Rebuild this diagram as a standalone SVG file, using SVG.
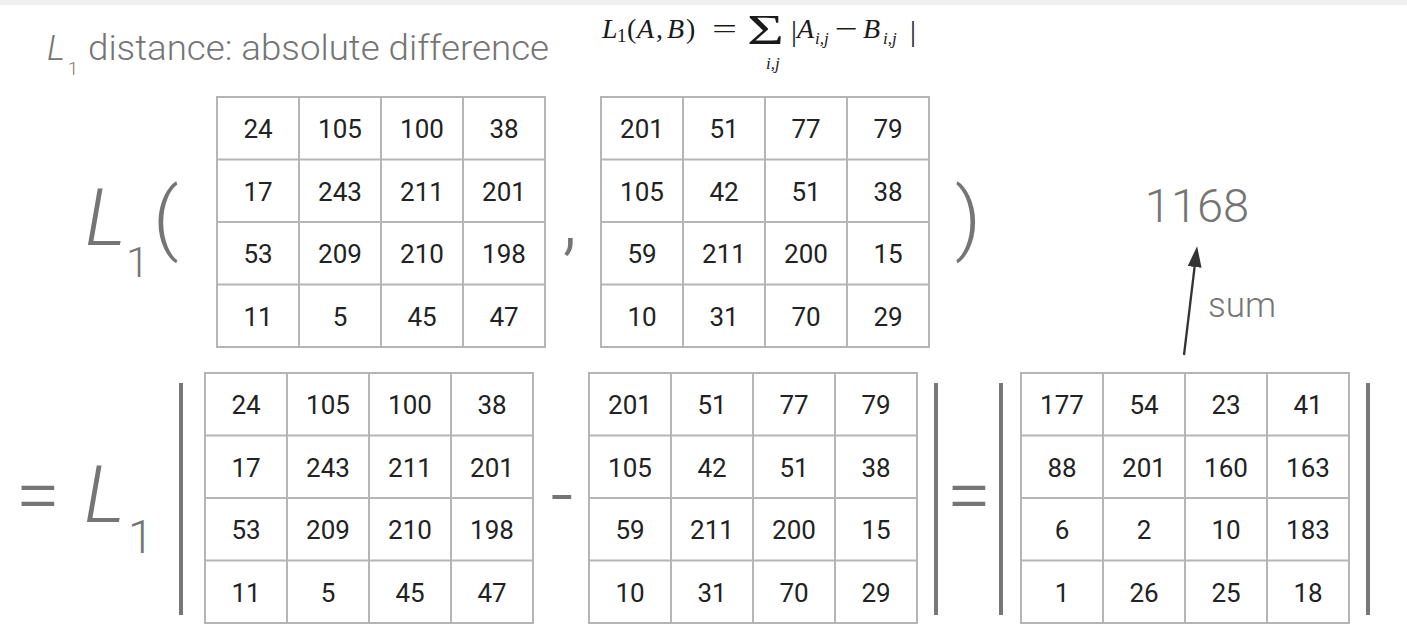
<svg xmlns="http://www.w3.org/2000/svg" xmlns:xlink="http://www.w3.org/1999/xlink" width="1407" height="644" viewBox="0 0 1407 644">
<style>
.cell{font-family:Roboto,'Liberation Sans',sans-serif;font-size:26px;fill:#222;text-anchor:middle}
.sym{font-family:Roboto,'Liberation Sans',sans-serif;font-weight:300;fill:#757575}
.it{font-style:italic}
.tex{font-family:'Liberation Serif','DejaVu Serif',serif;fill:#1a1a1a}
.gl{fill:none;stroke:#b5b5b5;stroke-width:2}
.bar{stroke:#777;stroke-width:4}
.conn{stroke:#333;stroke-width:2.3;fill:none}
</style>
<defs>
<g id="grid">
<rect class="gl" x="0" y="0" width="328" height="250"/>
<path class="gl" d="M82,0V250M164,0V250M246,0V250M0,62.5H328M0,125H328M0,187.5H328"/>
</g>
<marker id="ah" markerUnits="userSpaceOnUse" markerWidth="22" markerHeight="16" refX="0" refY="7" orient="auto" viewBox="0 0 22 16">
<path d="M0,0 L21,7 L0,14 z" fill="#333"/>
</marker>
</defs>
<rect width="1407" height="644" fill="#fff"/>
<rect width="1407" height="5" fill="#efefef"/>

<g id="title">
<text class="sym it" x="47" y="60" font-size="35">L</text>
<text class="sym" x="68" y="75" font-size="18">1</text>
<text class="sym" x="88" y="60" font-size="35" font-weight="400" fill="#6c6c6c" textLength="461" lengthAdjust="spacingAndGlyphs">distance: absolute difference</text>
</g>

<g id="formula" class="tex">
<text x="602" y="38" font-size="28" class="it">L</text>
<text x="617" y="42" font-size="19">1</text>
<text x="627" y="38" font-size="28">(</text>
<text x="637" y="38" font-size="28" class="it">A</text>
<text x="656" y="38" font-size="28">,</text>
<text x="667" y="38" font-size="28" class="it">B</text>
<text x="686" y="38" font-size="28">)</text>
<text x="712" y="38" font-size="28" textLength="25" lengthAdjust="spacingAndGlyphs">=</text>
<text x="747" y="44" font-size="42" textLength="37" lengthAdjust="spacingAndGlyphs">Σ</text>
<text x="766" y="69" font-size="17" class="it">i,j</text>
<text x="791" y="41" font-size="30">|</text>
<text x="797" y="38" font-size="28" class="it">A</text>
<text x="815" y="44" font-size="17" class="it">i,j</text>
<text x="835" y="38" font-size="28" textLength="23" lengthAdjust="spacingAndGlyphs">−</text>
<text x="863" y="38" font-size="28" class="it">B</text>
<text x="883" y="44" font-size="17" class="it">i,j</text>
<text x="910" y="41" font-size="30">|</text>
</g>

<g id="top-expr">
<text class="sym it" x="85" y="245" font-size="80">L</text>
<text class="sym" x="126" y="277" font-size="42">1</text>
<text class="sym" x="153" y="245" font-size="80">(</text>
<text class="sym" x="562" y="245" font-size="80">,</text>
<text class="sym" x="955" y="245" font-size="80">)</text>
</g>

<g id="matA" transform="translate(217,97)">
<use xlink:href="#grid"/>
<text class="cell" x="41" y="41">24</text><text class="cell" x="123" y="41">105</text><text class="cell" x="205" y="41">100</text><text class="cell" x="287" y="41">38</text>
<text class="cell" x="41" y="103.5">17</text><text class="cell" x="123" y="103.5">243</text><text class="cell" x="205" y="103.5">211</text><text class="cell" x="287" y="103.5">201</text>
<text class="cell" x="41" y="166">53</text><text class="cell" x="123" y="166">209</text><text class="cell" x="205" y="166">210</text><text class="cell" x="287" y="166">198</text>
<text class="cell" x="41" y="228.5">11</text><text class="cell" x="123" y="228.5">5</text><text class="cell" x="205" y="228.5">45</text><text class="cell" x="287" y="228.5">47</text>
</g>

<g id="matB" transform="translate(601,97)">
<use xlink:href="#grid"/>
<text class="cell" x="41" y="41">201</text><text class="cell" x="123" y="41">51</text><text class="cell" x="205" y="41">77</text><text class="cell" x="287" y="41">79</text>
<text class="cell" x="41" y="103.5">105</text><text class="cell" x="123" y="103.5">42</text><text class="cell" x="205" y="103.5">51</text><text class="cell" x="287" y="103.5">38</text>
<text class="cell" x="41" y="166">59</text><text class="cell" x="123" y="166">211</text><text class="cell" x="205" y="166">200</text><text class="cell" x="287" y="166">15</text>
<text class="cell" x="41" y="228.5">10</text><text class="cell" x="123" y="228.5">31</text><text class="cell" x="205" y="228.5">70</text><text class="cell" x="287" y="228.5">29</text>
</g>

<g id="result">
<text class="sym" x="1197" y="222" font-size="47" text-anchor="middle">1168</text>
</g>

<g id="sum-label">
<text class="sym" x="1208" y="317" font-size="35" fill="#6d6d6d">sum</text>
</g>

<g id="connectors">
<line class="conn" x1="1184" y1="355" x2="1194.6" y2="267" marker-end="url(#ah)"/>
</g>

<g id="bottom-expr">
<text class="sym" x="38" y="522" font-size="80" text-anchor="middle">=</text>
<text class="sym it" x="84" y="522" font-size="80">L</text>
<text class="sym" x="128" y="553" font-size="46">1</text>
<line class="bar" x1="181" y1="383" x2="181" y2="615"/>
<text class="sym" x="562" y="522" font-size="80" text-anchor="middle">-</text>
<line class="bar" x1="936" y1="383" x2="936" y2="615"/>
<text class="sym" x="969" y="522" font-size="80" text-anchor="middle">=</text>
<line class="bar" x1="1001" y1="383" x2="1001" y2="615"/>
<line class="bar" x1="1368" y1="383" x2="1368" y2="615"/>
</g>

<g id="matA2" transform="translate(205,373)">
<use xlink:href="#grid"/>
<text class="cell" x="41" y="41">24</text><text class="cell" x="123" y="41">105</text><text class="cell" x="205" y="41">100</text><text class="cell" x="287" y="41">38</text>
<text class="cell" x="41" y="103.5">17</text><text class="cell" x="123" y="103.5">243</text><text class="cell" x="205" y="103.5">211</text><text class="cell" x="287" y="103.5">201</text>
<text class="cell" x="41" y="166">53</text><text class="cell" x="123" y="166">209</text><text class="cell" x="205" y="166">210</text><text class="cell" x="287" y="166">198</text>
<text class="cell" x="41" y="228.5">11</text><text class="cell" x="123" y="228.5">5</text><text class="cell" x="205" y="228.5">45</text><text class="cell" x="287" y="228.5">47</text>
</g>

<g id="matB2" transform="translate(589,373)">
<use xlink:href="#grid"/>
<text class="cell" x="41" y="41">201</text><text class="cell" x="123" y="41">51</text><text class="cell" x="205" y="41">77</text><text class="cell" x="287" y="41">79</text>
<text class="cell" x="41" y="103.5">105</text><text class="cell" x="123" y="103.5">42</text><text class="cell" x="205" y="103.5">51</text><text class="cell" x="287" y="103.5">38</text>
<text class="cell" x="41" y="166">59</text><text class="cell" x="123" y="166">211</text><text class="cell" x="205" y="166">200</text><text class="cell" x="287" y="166">15</text>
<text class="cell" x="41" y="228.5">10</text><text class="cell" x="123" y="228.5">31</text><text class="cell" x="205" y="228.5">70</text><text class="cell" x="287" y="228.5">29</text>
</g>

<g id="matC" transform="translate(1021,373)">
<use xlink:href="#grid"/>
<text class="cell" x="41" y="41">177</text><text class="cell" x="123" y="41">54</text><text class="cell" x="205" y="41">23</text><text class="cell" x="287" y="41">41</text>
<text class="cell" x="41" y="103.5">88</text><text class="cell" x="123" y="103.5">201</text><text class="cell" x="205" y="103.5">160</text><text class="cell" x="287" y="103.5">163</text>
<text class="cell" x="41" y="166">6</text><text class="cell" x="123" y="166">2</text><text class="cell" x="205" y="166">10</text><text class="cell" x="287" y="166">183</text>
<text class="cell" x="41" y="228.5">1</text><text class="cell" x="123" y="228.5">26</text><text class="cell" x="205" y="228.5">25</text><text class="cell" x="287" y="228.5">18</text>
</g>
</svg>
